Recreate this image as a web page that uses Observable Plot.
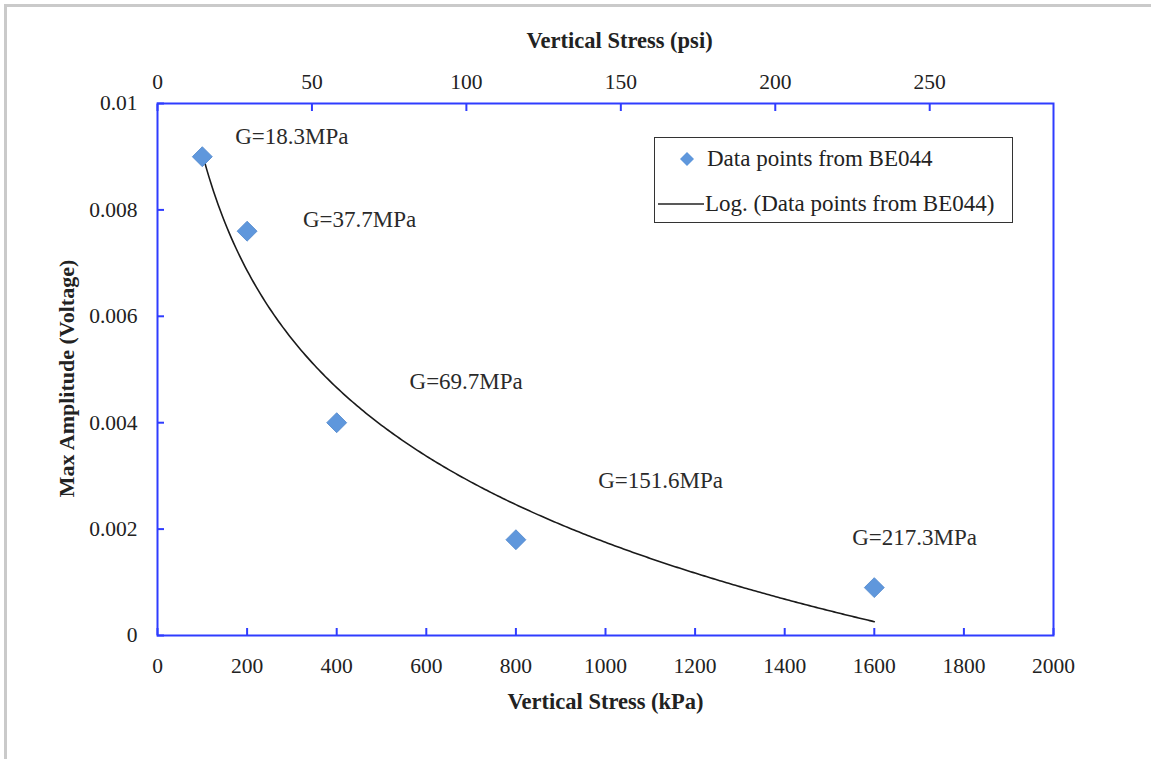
<!DOCTYPE html>
<html>
<head>
<meta charset="utf-8">
<script src="https://cdn.jsdelivr.net/npm/d3@7"></script>
<script src="https://cdn.jsdelivr.net/npm/@observablehq/plot@0.6"></script>
<style>
  html, body { margin: 0; padding: 0; background: #fff; }
  #wrap { position: relative; width: 1151px; height: 759px; overflow: hidden; font-family: "Liberation Serif", "DejaVu Serif", serif; }
  #edge { position: absolute; left: 4px; top: 4px; width: 1200px; height: 800px; border-top: 3px solid #cacaca; border-left: 3px solid #cacaca; }
  #chart { position: absolute; left: 0; top: 0; }
  #legend { position: absolute; left: 654px; top: 137px; width: 357px; height: 84px; border: 1.5px solid #333; background: #fff; font-family: "Liberation Serif", "DejaVu Serif", serif; font-size: 23px; color: #222; }
  #legend .row { position: absolute; left: 0; height: 26px; line-height: 26px; display: flex; align-items: center; white-space: nowrap; }
  #chart svg text { font-family: "Liberation Serif", "DejaVu Serif", serif; }
</style>
</head>
<body>
<div id="wrap">
  <div id="edge"></div>
  <div id="chart"></div>
  <div id="legend">
    <div class="row" style="top:8px;left:22px;">
      <svg width="20" height="20"><path d="M10,3L17,10L10,17L3,10Z" fill="#5f97dc"/></svg>
      <span style="margin-left:10px">Data points from BE044</span>
    </div>
    <div class="row" style="top:53px;left:2px;">
      <svg width="48" height="20"><line x1="1" y1="10" x2="47" y2="10" stroke="#222" stroke-width="1.6"/></svg>
      <span>Log. (Data points from BE044)</span>
    </div>
  </div>
</div>
<script>
// ---- data ----
const stressKPa = [100, 200, 400, 800, 1600];
const amplitude = [0.0090, 0.0076, 0.0040, 0.0018, 0.0009];
const shearLabels = ["G=18.3MPa", "G=37.7MPa", "G=69.7MPa", "G=151.6MPa", "G=217.3MPa"];
const shearLabelX = [300, 451, 689, 1123, 1690];
const shearLabelY = [0.00938, 0.00782, 0.00478, 0.00291, 0.00184];
const kPaTicks = [0, 200, 400, 600, 800, 1000, 1200, 1400, 1600, 1800, 2000];
const psiTicks = [0, 50, 100, 150, 200, 250];
const ampTicks = [0, 0.002, 0.004, 0.006, 0.008, 0.01];
const KPA_PER_PSI = 6.894757;

// ---- derived tables ----
const points = stressKPa.map((x, i) => ({x, y: amplitude[i]}));
const labels = shearLabels.map((t, i) => ({t, x: shearLabelX[i], y: shearLabelY[i]}));

// Excel-style logarithmic trendline (least squares on ln x)
const lx = stressKPa.map(Math.log);
const mx = d3.mean(lx), my = d3.mean(amplitude);
const slope = d3.sum(lx, (v, i) => (v - mx) * (amplitude[i] - my)) / d3.sum(lx, v => (v - mx) ** 2);
const intercept = my - slope * mx;
const trend = d3.range(stressKPa[0], stressKPa[stressKPa.length - 1] + 1, 5)
  .map(x => ({x, y: intercept + slope * Math.log(x)}));

const blue = "#2f3cff";
const font = "Liberation Serif";
const tickFont = 21.5;

const plot = Plot.plot({
  width: 1151,
  height: 759,
  marginLeft: 157,
  marginRight: 98,
  marginTop: 103,
  marginBottom: 124,
  style: {fontFamily: font, fontSize: tickFont + "px", color: "#222", background: "transparent"},
  x: {domain: [0, 2000]},
  y: {domain: [0, 0.01]},
  marks: [
    Plot.frame({stroke: blue, strokeWidth: 2}),
    // inward ticks
    Plot.axisX(kPaTicks, {anchor: "bottom", tickSize: -7, stroke: blue, strokeWidth: 2, tickFormat: () => "", label: null}),
    Plot.axisX(psiTicks.map(p => p * KPA_PER_PSI), {anchor: "top", tickSize: -7, stroke: blue, strokeWidth: 2, tickFormat: () => "", label: null}),
    Plot.axisY(ampTicks, {anchor: "left", tickSize: -7, stroke: blue, strokeWidth: 2, tickFormat: () => "", label: null}),
    // tick labels
    Plot.axisX(kPaTicks, {anchor: "bottom", tickSize: 0, tickPadding: 22, tickFormat: d => String(d), label: null, fill: "#222", fontSize: tickFont}),
    Plot.axisX(psiTicks.map(p => p * KPA_PER_PSI), {anchor: "top", tickSize: 0, tickPadding: 15, tickFormat: d => String(Math.round(d / KPA_PER_PSI)), label: null, fill: "#222", fontSize: tickFont}),
    Plot.axisY(ampTicks, {anchor: "left", tickSize: 0, tickPadding: 20, tickFormat: d => String(d), label: null, fill: "#222", fontSize: tickFont}),
    // axis titles
    Plot.text(["Vertical Stress (kPa)"], {frameAnchor: "bottom", lineAnchor: "middle", textAnchor: "middle", dy: 66, text: d => d, fontWeight: "bold", fontSize: 22.5, fill: "#222"}),
    Plot.text(["Vertical Stress (psi)"], {frameAnchor: "top", lineAnchor: "middle", textAnchor: "middle", dy: -63, dx: 14, text: d => d, fontWeight: "bold", fontSize: 22.5, fill: "#222"}),
    Plot.text(["Max Amplitude (Voltage)"], {frameAnchor: "left", lineAnchor: "middle", textAnchor: "middle", dx: -91, dy: 9, rotate: -90, text: d => d, fontWeight: "bold", fontSize: 22, fill: "#222"}),
    // trendline
    Plot.line(trend, {x: "x", y: "y", stroke: "#1a1a1a", strokeWidth: 1.6}),
    // data points
    Plot.dot(points, {x: "x", y: "y", symbol: "diamond2", r: 9, fill: "#5f97dc", stroke: "#4f86cc", strokeWidth: 0.8}),
    // annotations
    Plot.text(labels, {x: "x", y: "y", text: "t", fontSize: 23, fill: "#2a2a2a"})
  ]
});
document.getElementById("chart").appendChild(plot);
</script>
</body>
</html>
